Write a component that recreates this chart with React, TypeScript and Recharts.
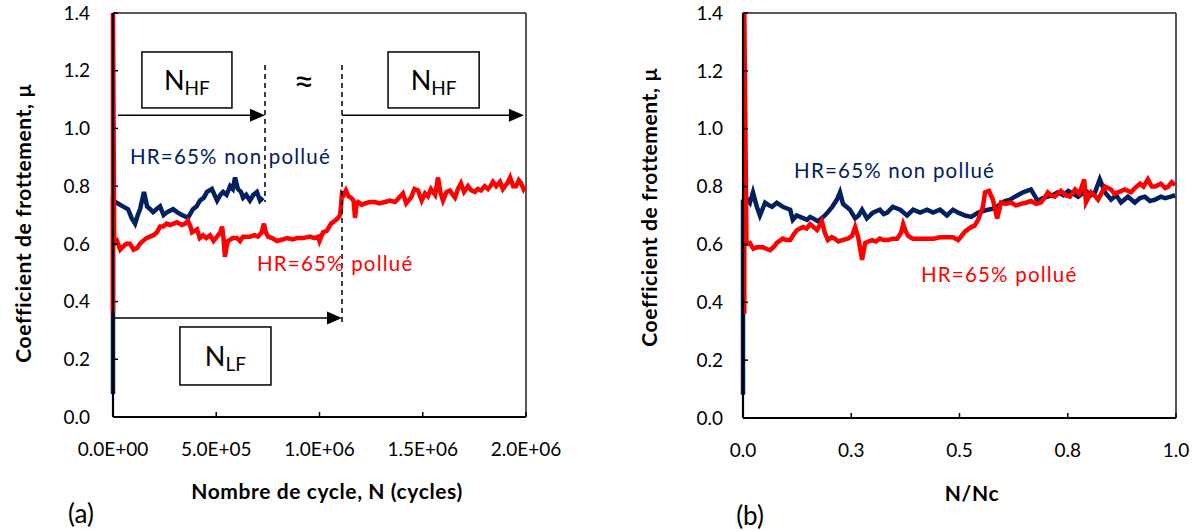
import React from 'react'
import { LineChart, Line, XAxis, YAxis, ReferenceLine, ReferenceArea, ReferenceDot } from 'recharts'

const FONT = 'Lato, "Open Sans", sans-serif'
const NAVY = '#002060'
const RED = '#ff0000'

// shared y axis
const muTicks = [0, 0.2, 0.4, 0.6, 0.8, 1.0, 1.2, 1.4]
const muTickLabels = ['0.0', '0.2', '0.4', '0.6', '0.8', '1.0', '1.2', '1.4']

// (a) friction coefficient vs number of cycles
const cycleTicks = [0, 500000, 1000000, 1500000, 2000000]
const cycleTickLabels = ['0.0E+00', '5.0E+05', '1.0E+06', '1.5E+06', '2.0E+06']

const cyclesNonPollA = [0, 0, 24000, 48000, 73000, 90000, 107000, 120000, 131000, 150000, 165000, 180000, 194000, 210000, 228000, 245000, 262000, 291000, 310000, 334000, 363000, 387000, 405000, 421000, 440000, 455000, 479000, 504000, 520000, 533000, 550000, 567000, 580000, 591000, 605000, 620000, 630000, 645000, 663000, 680000, 697000, 712000, 726000]
const muNonPollA = [0.08, 0.75, 0.74, 0.73, 0.72, 0.69, 0.67, 0.7, 0.72, 0.78, 0.73, 0.72, 0.71, 0.72, 0.73, 0.7, 0.71, 0.72, 0.71, 0.7, 0.69, 0.72, 0.73, 0.75, 0.76, 0.78, 0.79, 0.75, 0.77, 0.78, 0.77, 0.8, 0.79, 0.83, 0.79, 0.78, 0.76, 0.77, 0.75, 0.77, 0.78, 0.75, 0.76]

const cyclesPollA = [0, 0, 6000, 19000, 35000, 48000, 65000, 82000, 100000, 116000, 130000, 145000, 162000, 179000, 196000, 213000, 228000, 242000, 260000, 276000, 293000, 310000, 334000, 350000, 363000, 375000, 383000, 407000, 420000, 436000, 452000, 470000, 487000, 504000, 520000, 528000, 535000, 542000, 550000, 557000, 580000, 601000, 615000, 630000, 663000, 685000, 702000, 720000, 731000, 740000, 751000, 770000, 794000, 820000, 843000, 870000, 891000, 920000, 954000, 975000, 993000, 1000000, 1017000, 1035000, 1056000, 1075000, 1090000, 1100000, 1104000, 1109000, 1118000, 1128000, 1140000, 1153000, 1165000, 1172000, 1180000, 1187000, 1205000, 1220000, 1245000, 1269000, 1290000, 1317000, 1340000, 1366000, 1385000, 1404000, 1420000, 1443000, 1460000, 1477000, 1495000, 1511000, 1525000, 1540000, 1560000, 1574000, 1585000, 1598000, 1615000, 1632000, 1645000, 1656000, 1670000, 1685000, 1700000, 1719000, 1735000, 1753000, 1766000, 1782000, 1800000, 1816000, 1828000, 1840000, 1856000, 1874000, 1888000, 1898000, 1910000, 1923000, 1938000, 1952000, 1965000, 1976000, 1988000, 1995000]
const muPollA = [0.36, 1.4, 0.6, 0.61, 0.58, 0.59, 0.6, 0.6, 0.58, 0.585, 0.6, 0.61, 0.62, 0.625, 0.63, 0.64, 0.66, 0.66, 0.67, 0.665, 0.67, 0.675, 0.665, 0.67, 0.68, 0.66, 0.64, 0.65, 0.62, 0.63, 0.62, 0.63, 0.61, 0.625, 0.64, 0.66, 0.62, 0.555, 0.59, 0.61, 0.62, 0.62, 0.61, 0.625, 0.625, 0.63, 0.625, 0.64, 0.67, 0.64, 0.625, 0.62, 0.61, 0.615, 0.62, 0.615, 0.62, 0.62, 0.625, 0.62, 0.625, 0.61, 0.64, 0.645, 0.67, 0.68, 0.69, 0.7, 0.73, 0.775, 0.77, 0.785, 0.765, 0.76, 0.75, 0.69, 0.74, 0.745, 0.735, 0.74, 0.745, 0.745, 0.74, 0.745, 0.75, 0.745, 0.76, 0.775, 0.74, 0.76, 0.79, 0.785, 0.75, 0.775, 0.765, 0.79, 0.77, 0.83, 0.78, 0.75, 0.78, 0.785, 0.77, 0.76, 0.79, 0.81, 0.78, 0.8, 0.785, 0.78, 0.79, 0.785, 0.8, 0.79, 0.8, 0.815, 0.8, 0.815, 0.79, 0.8, 0.81, 0.83, 0.8, 0.8, 0.82, 0.81, 0.79, 0.8]

// (b) friction coefficient vs normalised life N/Nc
const ratioTicks = [0, 0.25, 0.5, 0.75, 1]
const ratioTickLabels = ['0.0', '0.3', '0.5', '0.8', '1.0']

const ratioNonPollB = [0, 0, 0.008, 0.016, 0.023, 0.032, 0.039, 0.051, 0.06, 0.067, 0.078, 0.092, 0.1, 0.109, 0.115, 0.124, 0.132, 0.14, 0.148, 0.155, 0.162, 0.173, 0.181, 0.189, 0.198, 0.206, 0.217, 0.224, 0.231, 0.239, 0.247, 0.259, 0.267, 0.275, 0.286, 0.3, 0.316, 0.325, 0.333, 0.346, 0.363, 0.379, 0.393, 0.409, 0.425, 0.439, 0.455, 0.471, 0.485, 0.497, 0.513, 0.527, 0.543, 0.566, 0.582, 0.595, 0.605, 0.617, 0.628, 0.647, 0.665, 0.681, 0.692, 0.704, 0.715, 0.727, 0.74, 0.751, 0.763, 0.774, 0.792, 0.804, 0.813, 0.824, 0.836, 0.85, 0.862, 0.873, 0.889, 0.905, 0.917, 0.928, 0.94, 0.952, 0.965, 0.975, 0.988, 0.998]
const muNonPollB = [0.08, 0.75, 0.76, 0.744, 0.78, 0.73, 0.7, 0.744, 0.735, 0.73, 0.744, 0.73, 0.725, 0.72, 0.685, 0.7, 0.695, 0.69, 0.685, 0.695, 0.69, 0.68, 0.69, 0.7, 0.715, 0.73, 0.755, 0.78, 0.74, 0.73, 0.72, 0.69, 0.7, 0.72, 0.69, 0.71, 0.72, 0.705, 0.71, 0.73, 0.72, 0.7, 0.72, 0.71, 0.72, 0.71, 0.72, 0.7, 0.72, 0.71, 0.7, 0.695, 0.71, 0.72, 0.725, 0.74, 0.75, 0.755, 0.765, 0.78, 0.79, 0.75, 0.76, 0.765, 0.77, 0.78, 0.77, 0.785, 0.775, 0.765, 0.785, 0.77, 0.78, 0.825, 0.78, 0.755, 0.77, 0.745, 0.765, 0.745, 0.76, 0.765, 0.75, 0.755, 0.765, 0.76, 0.765, 0.77]

const ratioPollB = [0.003, 0.003, 0.008, 0.016, 0.024, 0.032, 0.046, 0.054, 0.062, 0.07, 0.078, 0.092, 0.1, 0.109, 0.117, 0.125, 0.139, 0.147, 0.155, 0.163, 0.171, 0.182, 0.189, 0.196, 0.205, 0.212, 0.22, 0.229, 0.242, 0.252, 0.259, 0.266, 0.275, 0.282, 0.29, 0.298, 0.307, 0.316, 0.325, 0.335, 0.345, 0.356, 0.365, 0.37, 0.376, 0.381, 0.392, 0.402, 0.415, 0.425, 0.44, 0.455, 0.47, 0.485, 0.497, 0.505, 0.513, 0.527, 0.535, 0.543, 0.554, 0.559, 0.568, 0.577, 0.587, 0.596, 0.607, 0.619, 0.63, 0.642, 0.655, 0.665, 0.677, 0.688, 0.696, 0.704, 0.712, 0.72, 0.734, 0.745, 0.755, 0.767, 0.777, 0.788, 0.792, 0.804, 0.812, 0.82, 0.836, 0.85, 0.858, 0.866, 0.882, 0.896, 0.905, 0.917, 0.925, 0.935, 0.944, 0.952, 0.965, 0.975, 0.982, 0.99, 0.998]
const muPollB = [0.36, 1.4, 0.6, 0.605, 0.585, 0.59, 0.59, 0.585, 0.58, 0.59, 0.605, 0.62, 0.615, 0.615, 0.635, 0.65, 0.66, 0.655, 0.67, 0.66, 0.65, 0.68, 0.64, 0.615, 0.625, 0.62, 0.61, 0.615, 0.62, 0.63, 0.66, 0.625, 0.547, 0.605, 0.61, 0.615, 0.61, 0.62, 0.615, 0.615, 0.62, 0.62, 0.64, 0.67, 0.645, 0.63, 0.62, 0.62, 0.62, 0.62, 0.62, 0.625, 0.625, 0.625, 0.615, 0.63, 0.645, 0.66, 0.665, 0.685, 0.73, 0.78, 0.785, 0.755, 0.69, 0.745, 0.74, 0.745, 0.735, 0.74, 0.745, 0.75, 0.74, 0.745, 0.76, 0.78, 0.77, 0.765, 0.785, 0.77, 0.765, 0.79, 0.775, 0.825, 0.745, 0.78, 0.77, 0.755, 0.8, 0.79, 0.775, 0.78, 0.79, 0.78, 0.795, 0.81, 0.8, 0.825, 0.8, 0.8, 0.81, 0.795, 0.8, 0.815, 0.805]

const zip = (xs: number[], ys: number[]) => xs.map((x, i) => ({ x, mu: ys[i] }))

const nonPollA = zip(cyclesNonPollA, muNonPollA)
const pollA = zip(cyclesPollA, muPollA)
const nonPollB = zip(ratioNonPollB, muNonPollB)
const pollB = zip(ratioPollB, muPollB)

const tickStyle = { fontFamily: FONT, fontSize: 19, fill: '#000' }

const Arrow = (p: any) => {
  const x1 = Math.min(p.x1, p.x2)
  const x2 = Math.max(p.x1, p.x2)
  const y = p.y1
  return (
    <g>
      <line x1={x1} y1={y} x2={x2 - 12} y2={y} stroke="#000" strokeWidth={1.5} />
      <polygon points={`${x2},${y} ${x2 - 15},${y - 6.5} ${x2 - 15},${y + 6.5}`} fill="#000" />
    </g>
  )
}

const Box = (sub: string) => (p: any) => (
  <g>
    <rect x={p.x} y={p.y} width={p.width} height={p.height} fill="#fff" stroke="#000" strokeWidth={1.5} />
    <text x={p.x + p.width / 2} y={p.y + p.height / 2 + 10} textAnchor="middle" fontFamily={FONT} fontSize={27} fill="#000">
      N<tspan fontSize={19} dy={5}>{sub}</tspan>
    </text>
  </g>
)

const Note = (txt: string, color: string, size = 20.5) => (p: any) => (
  <text x={p.cx} y={p.cy} dominantBaseline="central" fontFamily={FONT} fontSize={size} fill={color} letterSpacing={1.2}>
    {txt}
  </text>
)

const Approx = (p: any) => (
  <text x={p.cx} y={p.cy} dominantBaseline="central" textAnchor="middle" fontFamily={FONT} fontSize={36} fill="#000">≈</text>
)

const html = (style: React.CSSProperties, txt: string, bold = true) => (
  <div style={{ position: 'absolute', fontFamily: FONT, fontWeight: bold ? 700 : 400, color: '#000', whiteSpace: 'nowrap', ...style }}>{txt}</div>
)

export default function App() {
  return (
    <div style={{ position: 'absolute', left: 0, top: 0, width: 1198, height: 531, background: '#fff' }}>
      <div style={{ position: 'absolute', left: 0, top: 0 }}>
        <LineChart width={600} height={531} margin={{ top: 13, right: 74, left: 63, bottom: 84 }}>
          <XAxis type="number" dataKey="x" domain={[0, 2000000]} ticks={cycleTicks} interval={0}
            tickFormatter={(v: number) => cycleTickLabels[cycleTicks.indexOf(v)]}
            tick={tickStyle} tickSize={-5} tickMargin={31} height={30}
            axisLine={{ stroke: '#000', strokeWidth: 2.2 }} tickLine={{ stroke: '#000', strokeWidth: 1.5 }} />
          <YAxis type="number" domain={[0, 1.4]} ticks={muTicks} interval={0} width={50}
            tickFormatter={(v: number) => muTickLabels[muTicks.indexOf(v)]}
            tick={tickStyle} tickSize={-5} tickMargin={28}
            axisLine={{ stroke: '#000', strokeWidth: 2.2 }} tickLine={{ stroke: '#000', strokeWidth: 1.5 }} />
          <ReferenceLine y={1.4} stroke="#222" strokeWidth={1.5} />
          <ReferenceLine x={2000000} stroke="#222" strokeWidth={1.5} />

          <Line data={nonPollA} dataKey="mu" stroke={NAVY} strokeWidth={4.5} dot={false} isAnimationActive={false} />
          <Line data={pollA} dataKey="mu" stroke={RED} strokeWidth={4.5} dot={false} isAnimationActive={false} />

          <ReferenceLine segment={[{ x: 736000, y: 1.22 }, { x: 736000, y: 0.745 }]} stroke="#000" strokeWidth={1.5} strokeDasharray="5 4" />
          <ReferenceLine segment={[{ x: 1109000, y: 1.22 }, { x: 1109000, y: 0.319 }]} stroke="#000" strokeWidth={1.5} strokeDasharray="5 4" />
          <ReferenceLine segment={[{ x: 24000, y: 1.046 }, { x: 736000, y: 1.046 }]} shape={Arrow} />
          <ReferenceLine segment={[{ x: 1109000, y: 1.046 }, { x: 1990000, y: 1.046 }]} shape={Arrow} />
          <ReferenceLine segment={[{ x: 0, y: 0.343 }, { x: 1109000, y: 0.343 }]} shape={Arrow} />
          <ReferenceArea x1={140000} x2={576000} y1={1.071} y2={1.265} shape={Box('HF')} />
          <ReferenceArea x1={1332000} x2={1773000} y1={1.071} y2={1.265} shape={Box('HF')} />
          <ReferenceArea x1={324000} x2={765000} y1={0.111} y2={0.312} shape={Box('LF')} />
          <ReferenceDot x={925000} y={1.169} r={0} shape={Approx} />
          <ReferenceDot x={82000} y={0.903} r={0} shape={Note('HR=65% non pollué', NAVY)} />
          <ReferenceDot x={697000} y={0.534} r={0} shape={Note('HR=65% pollué', RED)} />
        </LineChart>
      </div>

      <div style={{ position: 'absolute', left: 600, top: 0 }}>
        <LineChart width={598} height={531} margin={{ top: 13, right: 22, left: 93, bottom: 83 }}>
          <XAxis type="number" dataKey="x" domain={[0, 1]} ticks={ratioTicks} interval={0}
            tickFormatter={(v: number) => ratioTickLabels[ratioTicks.indexOf(v)]}
            tick={tickStyle} tickSize={-5} tickMargin={31} height={30}
            axisLine={{ stroke: '#000', strokeWidth: 2.2 }} tickLine={{ stroke: '#000', strokeWidth: 1.5 }} />
          <YAxis type="number" domain={[0, 1.4]} ticks={muTicks} interval={0} width={50}
            tickFormatter={(v: number) => muTickLabels[muTicks.indexOf(v)]}
            tick={tickStyle} tickSize={-5} tickMargin={25}
            axisLine={{ stroke: '#000', strokeWidth: 2.2 }} tickLine={{ stroke: '#000', strokeWidth: 1.5 }} />
          <ReferenceLine y={1.4} stroke="#222" strokeWidth={1.5} />
          <ReferenceLine x={1} stroke="#222" strokeWidth={1.5} />

          <Line data={nonPollB} dataKey="mu" stroke={NAVY} strokeWidth={4.5} dot={false} isAnimationActive={false} />
          <Line data={pollB} dataKey="mu" stroke={RED} strokeWidth={4.5} dot={false} isAnimationActive={false} />

          <ReferenceDot x={0.118} y={0.858} r={0} shape={Note('HR=65% non pollué', NAVY)} />
          <ReferenceDot x={0.411} y={0.497} r={0} shape={Note('HR=65% pollué', RED)} />
        </LineChart>
      </div>

      {html({ left: 22, top: 223, fontSize: 21, letterSpacing: 0.6, transform: 'translate(-50%, -50%) rotate(-90deg)' }, 'Coefficient de frottement, µ')}
      {html({ left: 648, top: 207, fontSize: 21, letterSpacing: 0.6, transform: 'translate(-50%, -50%) rotate(-90deg)' }, 'Coefficient de frottement, µ')}
      {html({ left: 327, top: 490, fontSize: 21, letterSpacing: 0.6, transform: 'translate(-50%, -50%)' }, 'Nombre de cycle, N (cycles)')}
      {html({ left: 972, top: 492, fontSize: 21, letterSpacing: 0.6, transform: 'translate(-50%, -50%)' }, 'N/Nc')}
      {html({ left: 81, top: 513, fontSize: 26, transform: 'translate(-50%, -50%)' }, '(a)', false)}
      {html({ left: 750, top: 515, fontSize: 26, transform: 'translate(-50%, -50%)' }, '(b)', false)}
    </div>
  )
}
